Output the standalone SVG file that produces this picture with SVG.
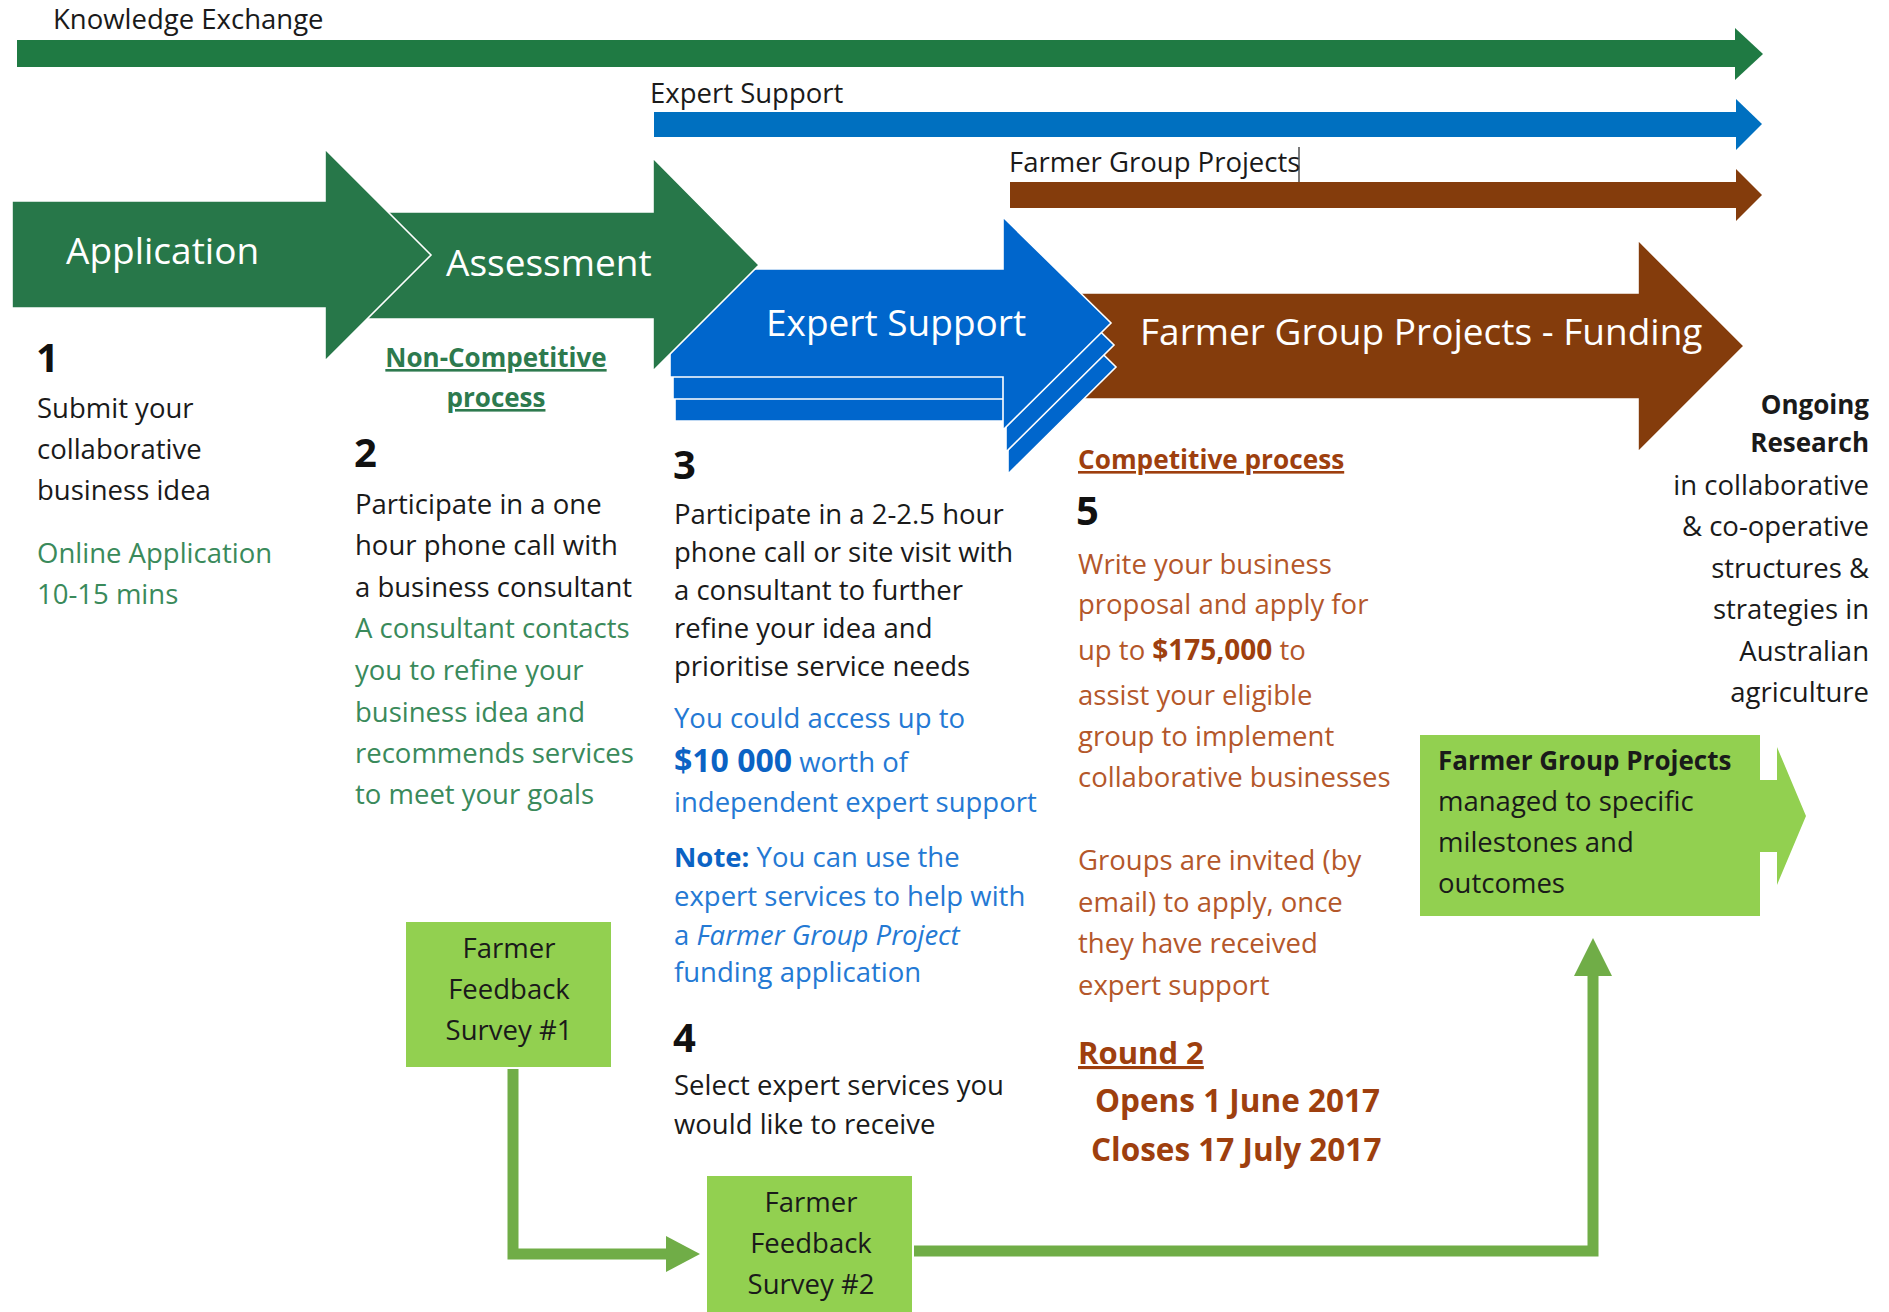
<svg xmlns="http://www.w3.org/2000/svg" width="1889" height="1312" viewBox="0 0 1889 1312">
<style>
.t{font-family:'Open Sans','Liberation Sans',sans-serif;font-size:27.5px;fill:#1a1a1a}
.g{fill:#3A8A5B}
.gb{fill:#2D7A4E;font-weight:bold;font-size:26px;text-decoration:underline}
.bl{fill:#2479D4}
.blb{fill:#0B63C4;font-weight:bold}
.br{fill:#B4572A}
.brb{fill:#9E3F0E;font-weight:bold}
.big{font-size:37px;fill:#ffffff}
.num{font-weight:bold;font-size:40px;fill:#111}
.bd{font-weight:bold;font-size:26px}
.c{text-anchor:middle}
.r{text-anchor:end}
.arrow{stroke:#ffffff;stroke-width:1.6;stroke-linejoin:miter}
.lg{fill:#92D050}
.conn{fill:none;stroke:#70AD47;stroke-width:11;stroke-linejoin:miter}
.connhead{fill:#70AD47}
</style>
<rect x="0" y="0" width="1889" height="1312" fill="#ffffff"/>

<!-- top timeline bars -->
<g id="bar-knowledge-exchange">
  <rect x="17" y="40" width="1721" height="27" fill="#1F7A43"/>
  <polygon points="1735,28 1763,54 1735,80" fill="#1F7A43"/>
  <text class="t" x="53" y="29">Knowledge Exchange</text>
</g>
<g id="bar-expert-support">
  <rect x="654" y="112" width="1084" height="25" fill="#0070C0"/>
  <polygon points="1736,99 1762,124 1736,150" fill="#0070C0"/>
  <text class="t" x="650" y="103">Expert Support</text>
</g>
<g id="bar-farmer-group-projects">
  <rect x="1010" y="182" width="728" height="26" fill="#843C0C"/>
  <polygon points="1736,169 1762,195 1736,221" fill="#843C0C"/>
  <text class="t" x="1009" y="172">Farmer Group Projects</text>
  <line x1="1299" y1="147" x2="1299" y2="182" stroke="#333" stroke-width="1.3"/>
</g>

<!-- big process arrows (back to front) -->
<g id="arrow-farmer-group-funding">
  <path class="arrow" d="M1005,293 H1638 V240 L1744,346 L1638,452 V399 H1005 Z" fill="#843C0C"/>
  <text class="t big" x="1140" y="345">Farmer Group Projects - Funding</text>
</g>
<g id="arrow-expert-support">
  <path class="arrow" d="M675,313 H1008 V261 L1116,367 L1008,474 V421 H675 Z" fill="#0066CC"/>
  <path class="arrow" d="M673,291 H1006 V239 L1114,345 L1006,452 V399 H673 Z" fill="#0066CC"/>
  <path class="arrow" d="M670,269 H1003 V217 L1111,323 L1003,430 V377 H670 Z" fill="#0066CC"/>
  <text class="t big" x="766" y="336">Expert Support</text>
</g>
<g id="arrow-assessment">
  <path class="arrow" d="M330,212 H653 V158 L759,265 L653,371 V319 H330 Z" fill="#277749"/>
  <text class="t big" x="446" y="276">Assessment</text>
</g>
<g id="arrow-application">
  <path class="arrow" d="M12,201 H325 V149 L431,255 L325,361 V308 H12 Z" fill="#277749"/>
  <text class="t big" x="66" y="264">Application</text>
</g>

<!-- step texts -->
<g id="step-1">
  <text class="t num" x="36" y="372">1</text>
  <text class="t" x="37" y="418">Submit your</text>
  <text class="t" x="37" y="459">collaborative</text>
  <text class="t" x="37" y="500">business idea</text>
  <text class="t g" x="37" y="563">Online Application</text>
  <text class="t g" x="37" y="604">10-15 mins</text>
</g>
<g id="step-2">
  <text class="t gb c" x="496" y="367">Non-Competitive</text>
  <text class="t gb c" x="496" y="407">process</text>
  <text class="t num" x="354" y="467">2</text>
  <text class="t" x="355" y="514">Participate in a one</text>
  <text class="t" x="355" y="555">hour phone call with</text>
  <text class="t" x="355" y="597">a business consultant</text>
  <text class="t g" x="355" y="638">A consultant contacts</text>
  <text class="t g" x="355" y="680">you to refine your</text>
  <text class="t g" x="355" y="722">business idea and</text>
  <text class="t g" x="355" y="763">recommends services</text>
  <text class="t g" x="355" y="804">to meet your goals</text>
</g>
<g id="step-3">
  <text class="t num" x="673" y="479">3</text>
  <text class="t" x="674" y="524">Participate in a 2-2.5 hour</text>
  <text class="t" x="674" y="562">phone call or site visit with</text>
  <text class="t" x="674" y="600">a consultant to further</text>
  <text class="t" x="674" y="638">refine your idea and</text>
  <text class="t" x="674" y="676">prioritise service needs</text>
  <text class="t bl" x="674" y="728">You could access up to</text>
  <text class="t bl" x="674" y="772"><tspan class="blb" style="font-size:32px">$10 000</tspan> worth of</text>
  <text class="t bl" x="674" y="812">independent expert support</text>
  <text class="t bl" x="674" y="867"><tspan class="blb">Note:</tspan> You can use the</text>
  <text class="t bl" x="674" y="906">expert services to help with</text>
  <text class="t bl" x="674" y="945">a <tspan font-style="italic">Farmer Group Project</tspan></text>
  <text class="t bl" x="674" y="982">funding application</text>
</g>
<g id="step-4">
  <text class="t num" x="673" y="1052">4</text>
  <text class="t" x="674" y="1095">Select expert services you</text>
  <text class="t" x="674" y="1134">would like to receive</text>
</g>
<g id="step-5">
  <text class="t brb" x="1078" y="469" style="font-size:26.2px;text-decoration:underline">Competitive process</text>
  <text class="t num" x="1076" y="525">5</text>
  <text class="t br" x="1078" y="574">Write your business</text>
  <text class="t br" x="1078" y="614">proposal and apply for</text>
  <text class="t br" x="1078" y="660">up to <tspan class="brb" style="font-size:28px">$175,000</tspan> to</text>
  <text class="t br" x="1078" y="705">assist your eligible</text>
  <text class="t br" x="1078" y="746">group to implement</text>
  <text class="t br" x="1078" y="787">collaborative businesses</text>
  <text class="t br" x="1078" y="870">Groups are invited (by</text>
  <text class="t br" x="1078" y="912">email) to apply, once</text>
  <text class="t br" x="1078" y="953">they have received</text>
  <text class="t br" x="1078" y="995">expert support</text>
  <text class="t brb" x="1078" y="1064" style="font-size:31px;text-decoration:underline">Round 2</text>
  <text class="t brb" x="1095" y="1112" style="font-size:31.5px">Opens 1 June 2017</text>
  <text class="t brb" x="1091" y="1161" style="font-size:31.5px">Closes 17 July 2017</text>
</g>
<g id="ongoing-research">
  <text class="t bd r" x="1869" y="414">Ongoing</text>
  <text class="t bd r" x="1869" y="452">Research</text>
  <text class="t r" x="1869" y="495">in collaborative</text>
  <text class="t r" x="1869" y="536">&amp; co-operative</text>
  <text class="t r" x="1869" y="578">structures &amp;</text>
  <text class="t r" x="1869" y="619">strategies in</text>
  <text class="t r" x="1869" y="661">Australian</text>
  <text class="t r" x="1869" y="702">agriculture</text>
</g>

<!-- green boxes -->
<g id="fgp-managed">
  <path class="lg" d="M1420,735 H1760 V780 H1777 V747 L1806,816 L1777,885 V852 H1760 V916 H1420 Z"/>
  <text class="t bd" x="1438" y="770">Farmer Group Projects</text>
  <text class="t" x="1438" y="811">managed to specific</text>
  <text class="t" x="1438" y="852">milestones and</text>
  <text class="t" x="1438" y="893">outcomes</text>
</g>
<g id="survey-1">
  <rect class="lg" x="406" y="922" width="205" height="145"/>
  <text class="t c" x="509" y="958">Farmer</text>
  <text class="t c" x="509" y="999">Feedback</text>
  <text class="t c" x="509" y="1040">Survey #1</text>
</g>
<g id="survey-2">
  <rect class="lg" x="707" y="1176" width="205" height="136"/>
  <text class="t c" x="811" y="1212">Farmer</text>
  <text class="t c" x="811" y="1253">Feedback</text>
  <text class="t c" x="811" y="1294">Survey #2</text>
</g>

<!-- connectors -->
<g id="connectors">
  <path class="conn" d="M513,1069 V1254 H668"/>
  <polygon class="connhead" points="666,1236 700,1254 666,1272"/>
  <path class="conn" d="M914,1251 H1593 V974"/>
  <polygon class="connhead" points="1574,976 1593,938 1612,976"/>
</g>
</svg>
